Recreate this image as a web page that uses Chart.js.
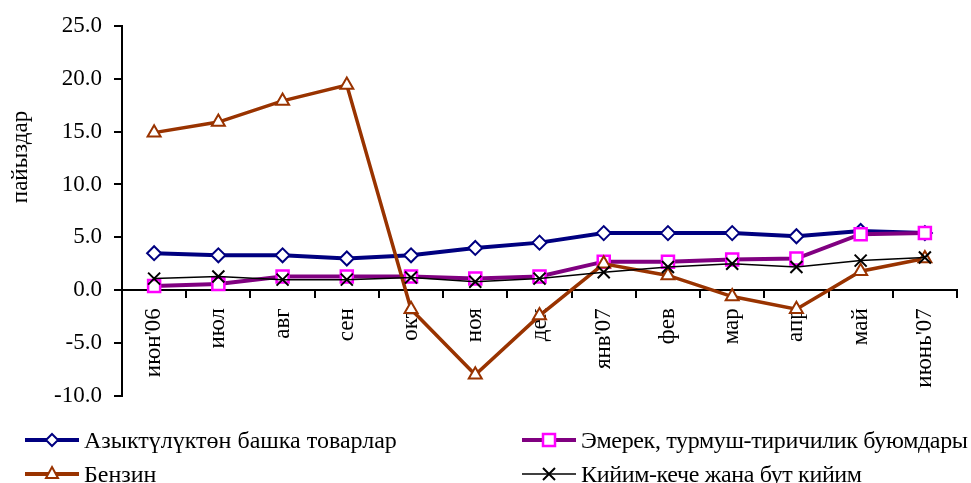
<!DOCTYPE html>
<html>
<head>
<meta charset="utf-8">
<script src="https://cdn.jsdelivr.net/npm/chart.js@4.4.0/dist/chart.umd.min.js"></script>
<style>
  body { margin: 0; background: #fff; }
  #wrap { position: relative; width: 971px; height: 483px; overflow: hidden; }
  .leg { position: absolute; display: flex; align-items: center; height: 28px;
         font: 24px 'Liberation Serif', 'Times New Roman', serif; color: #000; white-space: nowrap; }
  .leg svg { margin-right: 5px; }
  .tight { letter-spacing: -0.35px; }
</style>
</head>
<body>
<div id="wrap">
  <canvas id="c" width="971" height="483"></canvas>
  <div class="leg" style="left:25px; top:426px">
    <svg width="54" height="20"><line x1="0" y1="10" x2="54" y2="10" stroke="#000080" stroke-width="4"/>
      <polygon points="27,4 33,10 27,16 21,10" fill="#fff" stroke="#000080" stroke-width="2"/></svg>
    <span id="l0"></span>
  </div>
  <div class="leg" style="left:522px; top:426px">
    <svg width="54" height="20"><line x1="0" y1="10" x2="54" y2="10" stroke="#800080" stroke-width="4"/>
      <rect x="21" y="4" width="12" height="12" fill="#fff" stroke="#ff00ff" stroke-width="2.5"/></svg>
    <span id="l1" class="tight"></span>
  </div>
  <div class="leg" style="left:25px; top:460px">
    <svg width="54" height="20"><line x1="0" y1="10" x2="54" y2="10" stroke="#993300" stroke-width="4"/>
      <polygon points="27,3 33,14 21,14" fill="#fff" stroke="#993300" stroke-width="2"/></svg>
    <span id="l2"></span>
  </div>
  <div class="leg" style="left:522px; top:460px">
    <svg width="54" height="20"><line x1="0" y1="10" x2="54" y2="10" stroke="#000" stroke-width="1.5"/>
      <path d="M21,4 L33,16 M33,4 L21,16" stroke="#000" stroke-width="2"/></svg>
    <span id="l3" class="tight"></span>
  </div>
</div>
<script>
// months, Jun 2006 - Jun 2007
const categories = ["июн'06", 'июл', 'авг', 'сен', 'окт', 'ноя', 'дек', "янв'07", 'фев', 'мар', 'апр', 'май', "июнь'07"];

const seriesNames = [
  'Азыктүлүктөн башка товарлар',
  'Эмерек, турмуш-тиричилик буюмдары',
  'Бензин',
  'Кийим-кече жана бут кийим'
];

const nonFood   = [3.5, 3.3, 3.3, 3.0, 3.3, 4.0, 4.5, 5.4, 5.4, 5.4, 5.1, 5.6, 5.4];
const household = [0.4, 0.6, 1.3, 1.3, 1.3, 1.1, 1.3, 2.7, 2.7, 2.9, 3.0, 5.3, 5.4];
const petrol    = [14.9, 15.9, 17.9, 19.4, -1.8, -8.0, -2.4, 2.5, 1.4, -0.6, -1.8, 1.8, 3.0];
const clothing  = [1.1, 1.3, 1.0, 1.0, 1.2, 0.8, 1.1, 1.7, 2.2, 2.5, 2.2, 2.8, 3.1];

const yTicks = [-10, -5, 0, 5, 10, 15, 20, 25];
const yTitleText = 'пайыздар';

seriesNames.forEach(function(n, i) { document.getElementById('l' + i).textContent = n; });

const serif = "'Liberation Serif', 'Times New Roman', serif";

const yTitle = {
  id: 'yTitle',
  afterDraw(chart) {
    const ctx = chart.ctx;
    ctx.save();
    ctx.translate(21, 157);
    ctx.rotate(-Math.PI / 2);
    ctx.font = '23px ' + serif;
    ctx.fillStyle = '#000';
    ctx.textAlign = 'center';
    ctx.textBaseline = 'middle';
    ctx.fillText(yTitleText, 0, 0);
    ctx.restore();
  }
};

new Chart(document.getElementById('c'), {
  type: 'line',
  data: {
    labels: categories,
    datasets: [
      { label: seriesNames[0], data: nonFood, order: 4,
        borderColor: '#000080', borderWidth: 4,
        pointStyle: 'rectRot', pointRadius: 7, pointBackgroundColor: '#fff', pointBorderColor: '#000080', pointBorderWidth: 2 },
      { label: seriesNames[1], data: household, order: 3,
        borderColor: '#800080', borderWidth: 4,
        pointStyle: 'rect', pointRadius: 8.5, pointBackgroundColor: '#fff', pointBorderColor: '#ff00ff', pointBorderWidth: 2.5 },
      { label: seriesNames[2], data: petrol, order: 2,
        borderColor: '#993300', borderWidth: 3.5,
        pointStyle: 'triangle', pointRadius: 7.5, pointBackgroundColor: '#fff', pointBorderColor: '#993300', pointBorderWidth: 2 },
      { label: seriesNames[3], data: clothing, order: 1,
        borderColor: '#000', borderWidth: 1.5,
        pointStyle: 'crossRot', pointRadius: 8.5, pointBorderColor: '#000', pointBorderWidth: 2 }
    ]
  },
  options: {
    responsive: false,
    animation: false,
    layout: { padding: { left: 0, top: 22, right: 14, bottom: 87 } },
    elements: { line: { tension: 0 } },
    plugins: { legend: { display: false }, tooltip: { enabled: false } },
    scales: {
      x: {
        type: 'category',
        position: { y: 0 },
        offset: true,
        grid: { offset: true, drawOnChartArea: false, drawTicks: true, tickLength: 7, color: '#000', lineWidth: 2 },
        border: { display: true, color: '#000', width: 2 },
        ticks: { autoSkip: false, minRotation: 90, maxRotation: 90, padding: 11, color: '#000', font: { family: serif, size: 23 } }
      },
      y: {
        min: -10, max: 25,
        afterFit: function(s) { s.width = 122; },
        afterBuildTicks: function(s) { s.ticks = yTicks.map(function(v) { return { value: v }; }); },
        grid: { drawOnChartArea: false, drawTicks: true, tickLength: 8, color: '#000', lineWidth: 2 },
        border: { display: true, color: '#000', width: 2 },
        ticks: { padding: 12, color: '#000', font: { family: serif, size: 23 },
          callback: function(v) { return Number(v).toFixed(1); } }
      }
    }
  },
  plugins: [yTitle]
});
</script>
</body>
</html>
